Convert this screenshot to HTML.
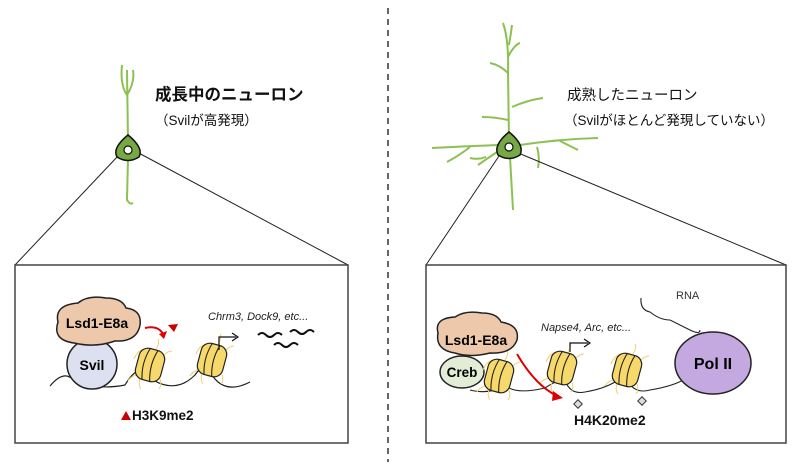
<!DOCTYPE html>
<html><head><meta charset="utf-8"><style>
html,body{margin:0;padding:0;background:#fff;}
svg{display:block;}
.jp{font-family:"Liberation Sans","Noto Sans CJK JP",sans-serif;}
.b{font-family:"Liberation Sans","Noto Sans CJK JP",sans-serif;font-weight:bold;}
</style></head><body>
<svg width="800" height="470" viewBox="0 0 800 470" xmlns="http://www.w3.org/2000/svg">
<defs>
<g id="nuc">
  <path d="M-6,-16 Q-13,-14 -16,-6 M6,-16 Q10,-22 8,-26 M-10,14 Q-12,20 -9,24 M10,14 Q12,20 9,24 M-14,10 Q-20,12 -22,16 M14,-10 Q18,-14 22,-14" stroke="#f0d070" stroke-width="1" fill="none"/>
  <g transform="rotate(15)">
  <rect x="-13" y="-16" width="26" height="32" rx="9" ry="9" fill="#f7d96b" stroke="#222" stroke-width="1.2"/>
  <path d="M-4,-16 Q-9,0 -4,16 M4,-16 Q-1,0 4,16" stroke="#222" stroke-width="1.1" fill="none"/>
  </g>
</g>
</defs>
<line x1="388" y1="8" x2="388" y2="462" stroke="#333" stroke-width="1.5" stroke-dasharray="6,5"/>

<!-- left neuron -->
<g stroke="#8cc152" stroke-width="2" fill="none">
<path d="M128,142 L127,70 M127,95 Q120,85 122,65 M127,95 Q135,82 133,70 M128,158 L127,200 Q130,205 133,203"/>
</g>
<line x1="118" y1="156" x2="15" y2="265" stroke="#222" stroke-width="1"/>
<line x1="135" y1="151" x2="348" y2="265" stroke="#222" stroke-width="1"/>
<path d="M128,135 Q144,148 139,157 Q128,164 117,157 Q112,148 128,135Z" fill="#76a844" stroke="#111" stroke-width="1.5"/>
<circle cx="128" cy="150" r="4" fill="#fff" stroke="#111" stroke-width="1.2"/>
<text x="155" y="100" class="b" font-size="16.5" fill="#111">成長中のニューロン</text>
<text x="155" y="125" class="jp" font-size="13.5" fill="#111">（Svilが高発現）</text>

<!-- right neuron -->
<g stroke="#8cc152" stroke-width="2" fill="none">
<path d="M509,140 L508,73 Q509,40 503,23 M508,73 Q500,65 490,63 M508,57 Q514,45 520,43 M509,45 Q511,33 512,25 M512,107 Q528,100 543,98 M508,120 Q495,117 482,117 M500,145 Q470,146 432,148 M470,147 Q460,155 447,162 M500,150 Q488,158 478,165 M486,157 Q478,160 470,158 M520,145 Q560,139 598,138 M537,147 Q540,158 538,168 M560,141 Q570,146 578,150 M510,157 L513,210"/>
</g>
<line x1="501" y1="153" x2="426" y2="265" stroke="#222" stroke-width="1"/>
<line x1="516" y1="152" x2="786" y2="265" stroke="#222" stroke-width="1"/>
<path d="M509,132 Q525,145 520,155 Q509,162 498,155 Q493,145 509,132Z" fill="#76a844" stroke="#111" stroke-width="1.5"/>
<circle cx="509" cy="147" r="4" fill="#fff" stroke="#111" stroke-width="1.2"/>
<text x="567" y="100" class="jp" font-size="14.5" fill="#111">成熟したニューロン</text>
<text x="564" y="125" class="jp" font-size="13.5" fill="#111">（Svilがほとんど発現していない）</text>

<!-- left box -->
<rect x="15" y="265" width="333" height="178" fill="#fff" stroke="#444" stroke-width="1.5"/>
<path d="M50,386 Q65,368 75,382 Q100,390 125,385 Q140,360 150,378 Q175,395 195,375 Q205,360 212,375 Q225,395 250,382" stroke="#222" stroke-width="1.2" fill="none"/>
<circle cx="92" cy="364" r="25" fill="#dde0f0" stroke="#222" stroke-width="1.5"/>
<text x="92" y="370" class="b" font-size="14" text-anchor="middle">Svil</text>
<path d="M58,322 Q54,305 78,303 Q88,295 106,298 Q122,298 126,308 Q142,310 140,325 Q137,342 115,341 Q95,348 74,343 Q52,340 58,322Z" fill="#edc8aa" stroke="#222" stroke-width="1.5"/>
<text x="97" y="328" class="b" font-size="14" text-anchor="middle">Lsd1-E8a</text>
<use href="#nuc" x="150" y="365"/>
<use href="#nuc" x="212" y="360"/>
<path d="M219,350 L219,337 L236,337" stroke="#111" stroke-width="1.2" fill="none"/>
<path d="M232,333 L238,337 L232,341" stroke="#111" stroke-width="1.2" fill="none"/>
<path d="M145,328 Q158,325 163,334" stroke="#d00" stroke-width="2" fill="none"/>
<path d="M159,334 L164,339 L167,331Z" fill="#d00"/>
<path d="M168,325 L178,324 L174,332Z" fill="#c00"/>
<text x="208" y="320" class="jp" font-size="11" font-style="italic" fill="#222">Chrm3, Dock9, etc...</text>
<g stroke="#111" stroke-width="2" fill="none">
<path d="M258,335 q4,-4 8,0 q4,4 8,0 q4,-4 8,0"/>
<path d="M290,332 q4,-4 8,0 q4,4 8,0 q4,-4 8,0"/>
<path d="M274,345 q4,-4 8,0 q4,4 8,0 q4,-4 8,0"/>
</g>
<path d="M121,420 L126,411 L131,420Z" fill="#c00"/>
<text x="132" y="420" class="b" font-size="13.5" fill="#111">H3K9me2</text>

<!-- right box -->
<rect x="426" y="265" width="360" height="178" fill="#fff" stroke="#444" stroke-width="1.5"/>
<path d="M470,390 Q490,395 505,385 Q515,395 545,388 Q560,378 565,380 Q570,395 585,392 Q610,388 625,375 Q632,395 650,390 Q680,385 690,375" stroke="#222" stroke-width="1.1" fill="none"/>
<path d="M641,298 Q640,310 650,312 Q660,320 670,320 Q680,325 690,330 Q700,335 700,330" stroke="#222" stroke-width="1.1" fill="none"/>
<text x="676" y="299" class="jp" font-size="11" fill="#333">RNA</text>
<ellipse cx="713" cy="363" rx="38" ry="31" fill="#c4a8e0" stroke="#222" stroke-width="1.5"/>
<text x="713" y="369" class="b" font-size="16" text-anchor="middle">Pol II</text>
<ellipse cx="462" cy="372" rx="22" ry="16" fill="#e2ecd6" stroke="#222" stroke-width="1.5"/>
<text x="462" y="377" class="b" font-size="13.5" text-anchor="middle">Creb</text>
<use href="#nuc" x="499" y="376"/>
<path d="M438,333 Q434,318 455,317 Q465,310 482,313 Q497,313 501,322 Q520,325 517,340 Q512,354 490,353 Q470,358 455,353 Q435,350 438,333Z" fill="#edc8aa" stroke="#222" stroke-width="1.5"/>
<text x="476" y="345" class="b" font-size="14" text-anchor="middle">Lsd1-E8a</text>
<use href="#nuc" x="562" y="368"/>
<use href="#nuc" x="627" y="370"/>
<path d="M570,352 L570,343 L588,343" stroke="#111" stroke-width="1.2" fill="none"/>
<path d="M584,339 L590,343 L584,347" stroke="#111" stroke-width="1.2" fill="none"/>
<text x="541" y="331" class="jp" font-size="11" font-style="italic" fill="#222">Napse4, Arc, etc...</text>
<path d="M517,354 Q535,385 557,396" stroke="#d00" stroke-width="2" fill="none"/>
<path d="M553,391 L563,398 L552,401Z" fill="#d00"/>
<rect x="575" y="401" width="6" height="6" fill="#ddd" stroke="#333" transform="rotate(45 578 404)"/>
<rect x="639" y="398" width="6" height="6" fill="#ddd" stroke="#333" transform="rotate(45 642 401)"/>
<text x="574" y="425" class="b" font-size="14" fill="#111">H4K20me2</text>
</svg>
</body></html>
